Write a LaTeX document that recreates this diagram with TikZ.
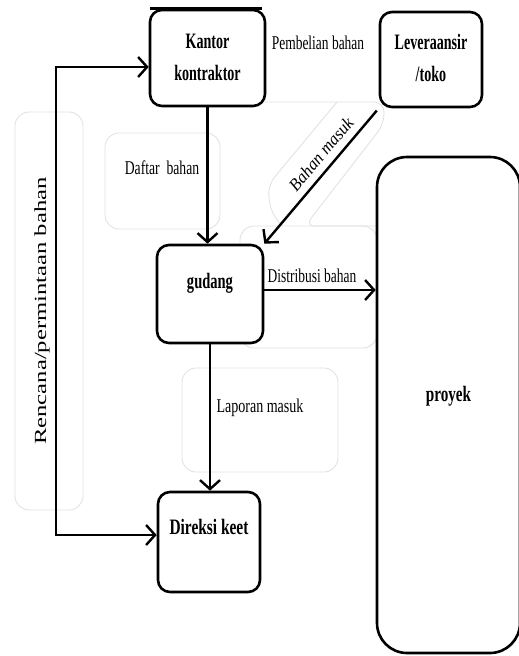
\documentclass[tikz,border=0pt]{standalone}
\usepackage{fontspec}
\setmainfont{Liberation Serif}
\usepackage{graphicx}
\usetikzlibrary{arrows.meta}
\definecolor{faint}{gray}{0.88}
\newcommand\sqz[2]{\scalebox{#1}[1]{#2}}
\newcommand\lift[2]{\raisebox{#1}[0pt][0pt]{#2}}
\begin{document}
\begin{tikzpicture}[x=1pt,y=-1pt,
  box/.style={draw, line width=2.6pt, rounded corners=12pt, inner sep=0pt, fill=white,
    font=\fontsize{22}{32}\selectfont\bfseries},
  lbl/.style={inner sep=0pt, font=\fontsize{19.5}{21}\selectfont},
  tipb/.tip={Straight Barb[length=9pt,width=20pt,line width=2.4pt]},
  arr/.style={line width=2.4pt, -tipb},
  faintbox/.style={draw=faint, line width=0.8pt, rounded corners=14pt},
  faintline/.style={draw=faint, line width=0.8pt, rounded corners=10pt}]
\useasboundingbox (0,0) rectangle (519,656);
\fill[white] (0,0) rectangle (519,656);
% faint background shapes
\draw[faintbox] (15,112) rectangle (83,510);
\draw[faintbox] (105,133) rectangle (220,229);
\draw[faintbox] (182,368) rectangle (338,472);
\draw[faintbox] (240,226) rectangle (377,348);
\draw[faintline] (262,102) -- (384,102) -- (384,124) -- (305,226) -- (378,226);
\draw[faintline] (337,102) -- (268,185) -- (270,210) -- (280,224);
% boxes
\node[box, minimum width=115pt, minimum height=96pt] (k) at (207.5,58)
  {\sqz{0.64}{\begin{tabular}{@{}c@{}}Kantor\\kontraktor\end{tabular}}};
\draw[line width=3pt] (150,8) -- (262,8);
\node[box, minimum width=102pt, minimum height=95pt] (l) at (431,59.5)
  {\sqz{0.64}{\begin{tabular}{@{}c@{}}Leveraansir\\/toko\end{tabular}}};
\node[box, minimum width=106pt, minimum height=98pt] (g) at (210,294)
  {\lift{6pt}{\sqz{0.66}{gudang}}};
\node[box, minimum width=102pt, minimum height=100pt] (d) at (209,542)
  {\lift{7.4pt}{\sqz{0.7}{Direksi keet}}};
\node[box, rounded corners=30pt, minimum width=143pt, minimum height=496pt] (p) at (448.5,405)
  {\lift{3.5pt}{\sqz{0.69}{proyek}}};
% connectors
\draw[arr] (k.south) -- (k.south |- g.north);
\draw[arr, shorten <=3pt] (l.south west) -- (g.north east);
\draw[arr] ([yshift=4pt]g.east) -- ([yshift=4pt]g.east -| p.west);
\draw[arr] (g.south) -- (g.south |- d.north);
\coordinate (c1) at (56,67);
\coordinate (c2) at (56,535);
\draw[line width=2.4pt, tipb-tipb] (k.west |- c1) -- (c1) -- (c2) -- (d.west |- c2);
% labels
\node[lbl] (pb) at (318,43) {\sqz{0.69}{Pembelian bahan}};
\node[lbl] (db) at (162,168) {\sqz{0.70}{Daftar\ \ bahan}};
\node[lbl, font=\fontsize{17.5}{20}\selectfont\itshape, rotate=50] (bm) at (321,154) {\sqz{0.95}{Bahan masuk}};
\node[lbl] (dist) at (312,276) {\sqz{0.69}{Distribusi bahan}};
\node[lbl] (lap) at (260,408) {\sqz{0.72}{Laporan masuk}};
\node[lbl, font=\fontsize{17}{20}\selectfont, rotate=90] (ren) at (42,311) {\sqz{1.45}{Rencana/permintaan bahan}};
\end{tikzpicture}
\end{document}
